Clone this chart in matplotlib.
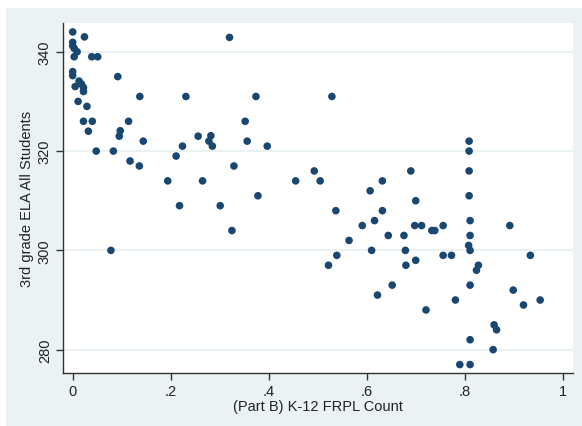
import matplotlib.pyplot as plt
from matplotlib.patches import Rectangle

# FRPL share (x) and 3rd grade ELA score (y)
frpl = [0.000, 0.024, 0.000, 0.000, 0.003, 0.009, 0.003, 0.039, 0.051, 0.000,
        0.000, 0.092, 0.013, 0.018, 0.005, 0.022, 0.022, 0.137, 0.011, 0.029,
        0.022, 0.040, 0.114, 0.032, 0.097, 0.095, 0.144, 0.048, 0.083, 0.117,
        0.136, 0.194, 0.211, 0.078,
        0.320, 0.231, 0.374, 0.352, 0.256, 0.282, 0.278, 0.285, 0.356, 0.224,
        0.397, 0.329, 0.265, 0.378, 0.218, 0.301, 0.325,
        0.529, 0.455, 0.493, 0.505, 0.607, 0.632, 0.809, 0.809, 0.690, 0.809,
        0.809, 0.700, 0.537, 0.632, 0.616, 0.591, 0.644, 0.564, 0.610, 0.539,
        0.522, 0.652, 0.622, 0.676, 0.679, 0.680, 0.700, 0.698, 0.712, 0.733,
        0.739, 0.756, 0.756, 0.773, 0.811, 0.811, 0.808, 0.811, 0.828, 0.824,
        0.811, 0.892, 0.934, 0.899, 0.954, 0.920, 0.781, 0.721, 0.860, 0.865,
        0.811, 0.858, 0.790, 0.811]
ela = [344.0, 343.0, 341.9, 341.2, 340.7, 340.0, 339.0, 339.0, 339.0, 336.0,
       335.2, 335.0, 334.1, 333.5, 333.0, 332.8, 332.0, 331.0, 330.0, 329.0,
       326.0, 326.0, 326.0, 324.0, 324.1, 323.0, 322.0, 320.0, 320.0, 318.0,
       317.0, 314.0, 319.0, 300.0,
       342.9, 331.0, 331.0, 326.0, 323.0, 323.1, 322.0, 321.0, 322.0, 321.0,
       321.0, 317.0, 314.0, 311.0, 309.0, 309.0, 304.0,
       331.0, 314.0, 316.0, 314.0, 312.0, 314.0, 322.0, 320.0, 316.0, 316.0,
       311.0, 310.0, 308.0, 308.0, 306.0, 305.0, 303.0, 302.0, 300.0, 299.0,
       297.0, 293.0, 291.0, 303.0, 300.0, 297.0, 298.0, 305.0, 305.0, 304.0,
       304.0, 305.0, 299.0, 299.0, 306.0, 303.0, 301.0, 300.0, 297.0, 296.0,
       293.0, 305.0, 299.0, 292.0, 290.0, 289.0, 290.0, 288.0, 285.0, 284.0,
       282.0, 280.0, 277.0, 277.0]

xticks = [0, 0.2, 0.4, 0.6, 0.8, 1.0]
xtick_labels = ["0", ".2", ".4", ".6", ".8", "1"]
yticks = [280, 300, 320, 340]

bg = "#EAF2F3"
navy = "#1A476F"

plt.rcParams['font.family'] = ['Liberation Sans', 'DejaVu Sans']

fig = plt.figure(figsize=(5.82, 4.27), dpi=100)
fig.patch.set_facecolor("white")
# Stata graph region (drawn behind the axes)
fig.patches.append(Rectangle((6 / 582, 0), 1, 1 - 9 / 427, transform=fig.transFigure,
                             facecolor=bg, edgecolor="none", zorder=-10))

ax = fig.add_axes([63 / 582, 53 / 427, 510 / 582, 350 / 427])
ax.set_facecolor("white")
ax.scatter(frpl, ela, s=30, color=navy, edgecolors="none", zorder=3)

ax.set_xlim(-0.0198, 1.021)
ax.set_ylim(275.3, 345.8)
ax.set_xticks(xticks)
ax.set_xticklabels(xtick_labels)
ax.set_yticks(yticks)
ax.set_yticklabels([str(v) for v in yticks], rotation=90, va="center")

ax.grid(axis="y", color=bg, linewidth=1.4, zorder=1)
ax.set_axisbelow(True)

for side in ["top", "right"]:
    ax.spines[side].set_visible(False)
for side in ["left", "bottom"]:
    ax.spines[side].set_color("#333333")
    ax.spines[side].set_linewidth(1.0)

ax.tick_params(direction="out", length=5, width=1.0, color="#333333",
               labelsize=10.5, labelcolor="#222222", pad=3)

ax.set_xlabel("(Part B) K-12 FRPL Count", fontsize=10.5, color="#222222", labelpad=1)
ax.set_ylabel("3rd grade ELA All Students", fontsize=10.5, color="#222222", labelpad=3)

fig.savefig("out.png", dpi=100, facecolor=fig.get_facecolor())
